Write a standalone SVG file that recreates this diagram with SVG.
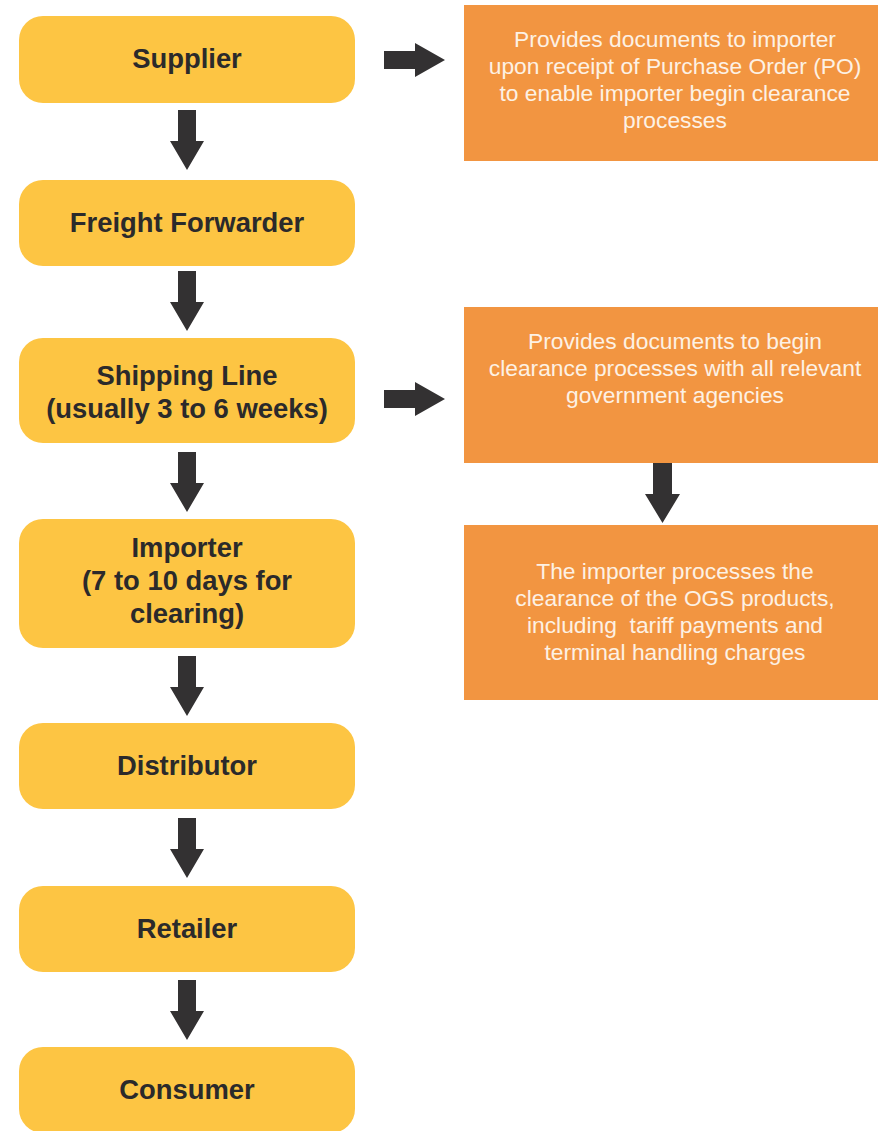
<svg xmlns="http://www.w3.org/2000/svg" width="878" height="1131" viewBox="0 0 878 1131">
<style>
.step{fill:#FDC543;}
.note{fill:#F29541;}
.st{font-family:"Liberation Sans",Arial,sans-serif;font-weight:bold;font-size:27.4px;fill:#2B2A2B;text-anchor:middle;}
.nt{font-family:"Liberation Sans",Arial,sans-serif;font-size:22.8px;fill:#FDF1E4;text-anchor:middle;}
.arr{fill:#333132;}
</style>
<rect width="878" height="1131" fill="#ffffff"/>
<g id="connectors">
<polygon class="arr" points="178,110 196,110 196,141 204,141 187,170 170,141 178,141"/>
<polygon class="arr" points="178,271 196,271 196,302 204,302 187,331 170,302 178,302"/>
<polygon class="arr" points="178,452 196,452 196,483 204,483 187,512 170,483 178,483"/>
<polygon class="arr" points="178,656 196,656 196,687 204,687 187,716 170,687 178,687"/>
<polygon class="arr" points="178,818 196,818 196,849 204,849 187,878 170,849 178,849"/>
<polygon class="arr" points="178,980 196,980 196,1011 204,1011 187,1040 170,1011 178,1011"/>
<polygon class="arr" points="384,51 415,51 415,43 445,60 415,77 415,69 384,69"/>
<polygon class="arr" points="384,390 415,390 415,382 445,399 415,416 415,408 384,408"/>
<polygon class="arr" points="653,463 672,463 672,494 680,494 662.5,523 645,494 653,494"/>
</g>
<g id="supplier">
<rect class="step" x="19" y="16" width="336" height="87" rx="24"/>
<text class="st" x="187" y="68">Supplier</text>
</g>
<g id="freight-forwarder">
<rect class="step" x="19" y="180" width="336" height="86" rx="24"/>
<text class="st" x="187" y="232">Freight Forwarder</text>
</g>
<g id="shipping-line">
<rect class="step" x="19" y="338" width="336" height="105" rx="24"/>
<text class="st" x="187" y="385">Shipping Line</text>
<text class="st" x="187" y="418">(usually 3 to 6 weeks)</text>
</g>
<g id="importer">
<rect class="step" x="19" y="519" width="336" height="129" rx="24"/>
<text class="st" x="187" y="557">Importer</text>
<text class="st" x="187" y="590">(7 to 10 days for</text>
<text class="st" x="187" y="623">clearing)</text>
</g>
<g id="distributor">
<rect class="step" x="19" y="723" width="336" height="86" rx="24"/>
<text class="st" x="187" y="775">Distributor</text>
</g>
<g id="retailer">
<rect class="step" x="19" y="886" width="336" height="86" rx="24"/>
<text class="st" x="187" y="938">Retailer</text>
</g>
<g id="consumer">
<rect class="step" x="19" y="1047" width="336" height="86" rx="24"/>
<text class="st" x="187" y="1099">Consumer</text>
</g>
<g id="note-supplier">
<rect class="note" x="464" y="5" width="414" height="156"/>
<text class="nt" x="675" y="47">Provides documents to importer</text>
<text class="nt" x="675" y="74">upon receipt of Purchase Order (PO)</text>
<text class="nt" x="675" y="101">to enable importer begin clearance</text>
<text class="nt" x="675" y="128">processes</text>
</g>
<g id="note-shipping">
<rect class="note" x="464" y="307" width="414" height="156"/>
<text class="nt" x="675" y="349">Provides documents to begin</text>
<text class="nt" x="675" y="376">clearance processes with all relevant</text>
<text class="nt" x="675" y="403">government agencies</text>
</g>
<g id="note-importer">
<rect class="note" x="464" y="525" width="414" height="175"/>
<text class="nt" x="675" y="579">The importer processes the</text>
<text class="nt" x="675" y="606">clearance of the OGS products,</text>
<text class="nt" x="675" y="633" xml:space="preserve">including  tariff payments and</text>
<text class="nt" x="675" y="660">terminal handling charges</text>
</g>
</svg>
